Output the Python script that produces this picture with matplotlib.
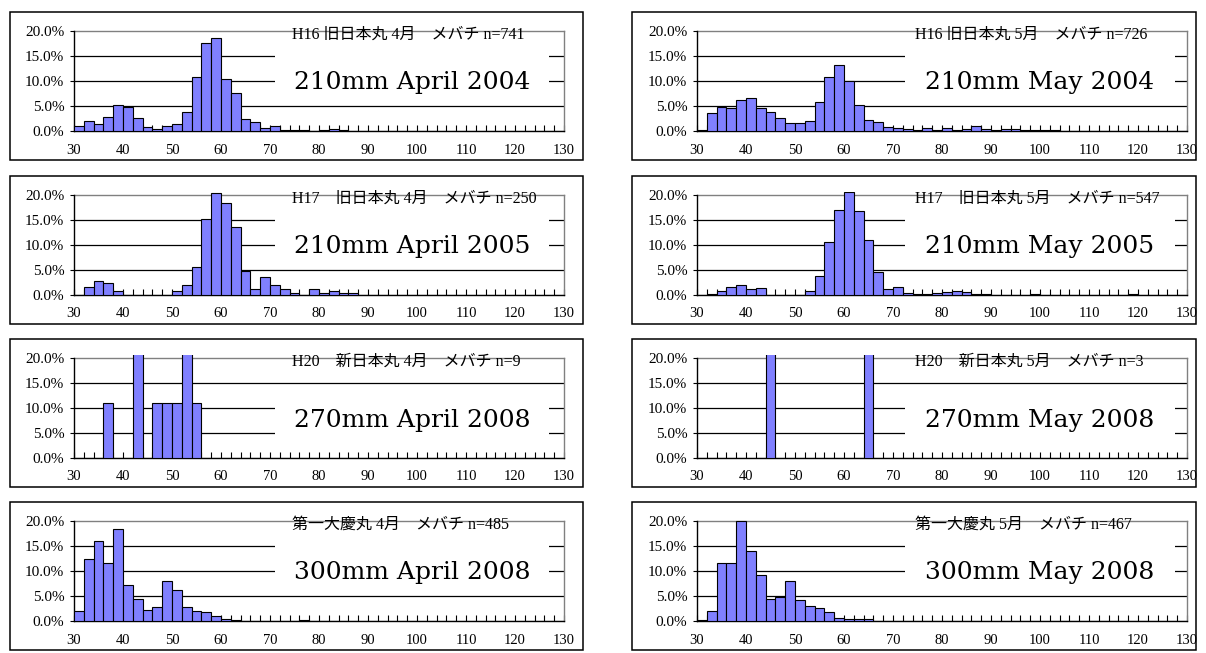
import matplotlib
matplotlib.use("Agg")
import matplotlib.pyplot as plt
from matplotlib.patches import Rectangle
from matplotlib.ticker import MultipleLocator, FixedLocator, FuncFormatter

# ---------------- data ----------------
bins = list(range(30, 130, 2))          # bin left edges (cm), width 2
x_labels = [30, 40, 50, 60, 70, 80, 90, 100, 110, 120, 130]
y_ticks = [0, 5, 10, 15, 20]

# percentages per bin (30,32,...,128)
h16_apr = [1.0, 2.0, 1.5, 2.8, 5.3, 4.9, 2.7, 0.9, 0.5, 1.0,
           1.4, 3.9, 10.8, 17.7, 18.7, 10.5, 7.6, 2.4, 1.8, 0.7,
           1.1, 0.3, 0.3, 0.3, 0.1, 0.3, 0.4, 0.3, 0.0, 0.1,
           0.1, 0.1, 0, 0, 0, 0, 0, 0, 0, 0,
           0, 0, 0, 0, 0, 0, 0, 0, 0, 0]
h16_may = [0.3, 3.7, 4.9, 4.7, 6.3, 6.7, 4.6, 3.9, 2.7, 1.7,
           1.7, 2.0, 5.9, 10.8, 13.2, 10.1, 5.3, 2.3, 1.9, 0.8,
           0.55, 0.4, 0.15, 0.7, 0.3, 0.55, 0.15, 0.4, 1.0, 0.4,
           0.15, 0.4, 0.4, 0.15, 0.15, 0.3, 0.15, 0, 0, 0,
           0, 0, 0, 0, 0, 0, 0, 0, 0, 0]
h17_apr = [0, 1.6, 2.8, 2.4, 0.8, 0, 0, 0, 0, 0,
           0.8, 2.0, 5.6, 15.2, 20.4, 18.4, 13.6, 4.8, 1.2, 3.6,
           2.0, 1.2, 0.4, 0, 1.2, 0.4, 0.8, 0.4, 0.4, 0,
           0, 0, 0, 0, 0, 0, 0, 0, 0, 0,
           0, 0, 0, 0, 0, 0, 0, 0, 0, 0]
h17_may = [0, 0.2, 0.7, 1.6, 2.0, 1.1, 1.3, 0, 0, 0,
           0, 0.7, 3.8, 10.5, 17.0, 20.5, 16.8, 11.0, 4.6, 1.1,
           1.5, 0.4, 0.2, 0.2, 0.4, 0.5, 0.7, 0.5, 0.2, 0.2,
           0, 0, 0, 0, 0.2, 0, 0, 0, 0, 0,
           0, 0, 0, 0, 0.2, 0, 0, 0, 0, 0]
h20_apr = [0, 0, 0, 11.1, 0, 0, 22.2, 0, 11.1, 11.1,
           11.1, 22.2, 11.1, 0, 0, 0, 0, 0, 0, 0,
           0, 0, 0, 0, 0, 0, 0, 0, 0, 0,
           0, 0, 0, 0, 0, 0, 0, 0, 0, 0,
           0, 0, 0, 0, 0, 0, 0, 0, 0, 0]
h20_may = [0, 0, 0, 0, 0, 0, 0, 33.3, 0, 0,
           0, 0, 0, 0, 0, 0, 0, 33.3, 0, 0,
           0, 0, 0, 0, 0, 0, 0, 0, 0, 0,
           0, 0, 0, 0, 0, 0, 0, 0, 0, 0,
           0, 0, 0, 0, 0, 0, 0, 0, 0, 0]
daiichi_apr = [2.0, 12.4, 16.0, 11.6, 18.4, 7.2, 4.5, 2.3, 2.9, 8.1,
               6.3, 2.9, 2.1, 1.8, 1.0, 0.4, 0.2, 0, 0, 0,
               0, 0, 0, 0.2, 0, 0, 0, 0, 0, 0,
               0, 0, 0, 0, 0, 0, 0, 0, 0, 0,
               0, 0, 0, 0, 0, 0, 0, 0, 0, 0]
daiichi_may = [0.3, 2.1, 11.6, 11.6, 20.0, 14.1, 9.2, 4.5, 4.8, 8.1,
               4.3, 3.0, 2.7, 1.9, 0.7, 0.4, 0.4, 0.4, 0, 0,
               0, 0, 0, 0, 0, 0, 0, 0, 0, 0,
               0, 0, 0, 0, 0, 0, 0, 0, 0, 0,
               0, 0, 0, 0, 0, 0, 0, 0, 0, 0]

titles_left = ["H16 旧日本丸 4月\u3000メバチ n=741",
               "H17\u3000旧日本丸 4月\u3000メバチ n=250",
               "H20\u3000新日本丸 4月\u3000メバチ n=9",
               "第一大慶丸 4月\u3000メバチ n=485"]
titles_right = ["H16 旧日本丸 5月\u3000メバチ n=726",
                "H17\u3000旧日本丸 5月\u3000メバチ n=547",
                "H20\u3000新日本丸 5月\u3000メバチ n=3",
                "第一大慶丸 5月\u3000メバチ n=467"]
labels_left = ["210mm April 2004", "210mm April 2005",
               "270mm April 2008", "300mm April 2008"]
labels_right = ["210mm May 2004", "210mm May 2005",
                "270mm May 2008", "300mm May 2008"]
series_left = [h16_apr, h17_apr, h20_apr, daiichi_apr]
series_right = [h16_may, h17_may, h20_may, daiichi_may]

# ---------------- layout (pixels) ----------------
W, H = 1206, 653
fig = plt.figure(figsize=(W / 100, H / 100), dpi=100)

plot_x = [(74, 564), (697, 1187)]
box_x = [(10, 583), (632, 1196)]
zero_y = [131, 295, 458, 621]
plot_h = 100
box_top_off = 119
box_bot_off = 29
# white label box: (y0, y1) in data units, text baseline
label_box = [(5.6, 16.4, 8.3), (5.6, 16.4, 8.3), (2.6, 13.4, 6.3), (5.6, 16.4, 8.3)]
label_box_x = [(0.41, 0.97), (0.425, 0.975)]
title_x = [0.445, 0.445]

BAR = "#8080FF"
tick_font = dict(family="Liberation Serif", size=10.5)

for col, (series, titles, labels) in enumerate(
        [(series_left, titles_left, labels_left),
         (series_right, titles_right, labels_right)]):
    x0, x1 = plot_x[col]
    bx0, bx1 = box_x[col]
    for row in range(4):
        zy = zero_y[row]
        # outer chart box
        fig.add_artist(Rectangle((bx0 / W, 1 - (zy + box_bot_off) / H),
                                 (bx1 - bx0) / W,
                                 (box_top_off + box_bot_off) / H,
                                 transform=fig.transFigure, fill=False,
                                 ec="black", lw=1.1, zorder=0))
        ax = fig.add_axes([x0 / W, 1 - zy / H, (x1 - x0) / W, plot_h / H])
        ax.set_xlim(30, 130)
        ax.set_ylim(0, 20)
        ax.set_facecolor("none")

        for g in y_ticks[1:-1]:
            ax.axhline(g, color="black", lw=0.9, zorder=1)

        bars = ax.bar(bins, series[row], width=2, align="edge", color=BAR,
                      edgecolor="black", linewidth=0.8, zorder=3)
        clip = Rectangle((0, 0), 1, 1.03, transform=ax.transAxes)
        for b in bars:
            b.set_clip_path(clip)

        yb0, yb1, base = label_box[row]
        lx0, lx1 = label_box_x[col]
        ax.add_patch(Rectangle((lx0, yb0), lx1 - lx0, yb1 - yb0,
                               transform=ax.get_yaxis_transform(),
                               fc="white", ec="none", zorder=2))
        ax.text((lx0 + lx1) / 2, base, labels[row],
                transform=ax.get_yaxis_transform(), ha="center",
                va="baseline", fontsize=18, family="DejaVu Serif", zorder=4)
        ax.text(title_x[col], 19.2, titles[row],
                transform=ax.get_yaxis_transform(), ha="left", va="center",
                fontsize=11.5, family=["Liberation Serif", "Noto Sans CJK JP"],
                zorder=4)

        for s in ["top", "right"]:
            ax.spines[s].set_color("#808080")
            ax.spines[s].set_linewidth(1.0)
        for s in ["left", "bottom"]:
            ax.spines[s].set_color("black")
            ax.spines[s].set_linewidth(1.0)
        ax.spines["top"].set_zorder(1)

        ax.xaxis.set_major_locator(FixedLocator(x_labels))
        ax.xaxis.set_minor_locator(MultipleLocator(2))
        ax.set_xticklabels([str(v) for v in x_labels], **tick_font)
        ax.tick_params(axis="x", which="both", direction="in", length=4,
                       width=0.8, pad=9, top=False)
        ax.yaxis.set_major_locator(FixedLocator(y_ticks))
        ax.yaxis.set_major_formatter(FuncFormatter(lambda v, p: f"{v:.1f}%"))
        for t in ax.get_yticklabels():
            t.set_family("Liberation Serif")
            t.set_fontsize(11)
        ax.tick_params(axis="y", which="both", direction="out", length=3,
                       width=0.8, pad=4)

fig.savefig("out.png", dpi=100, facecolor="white")
